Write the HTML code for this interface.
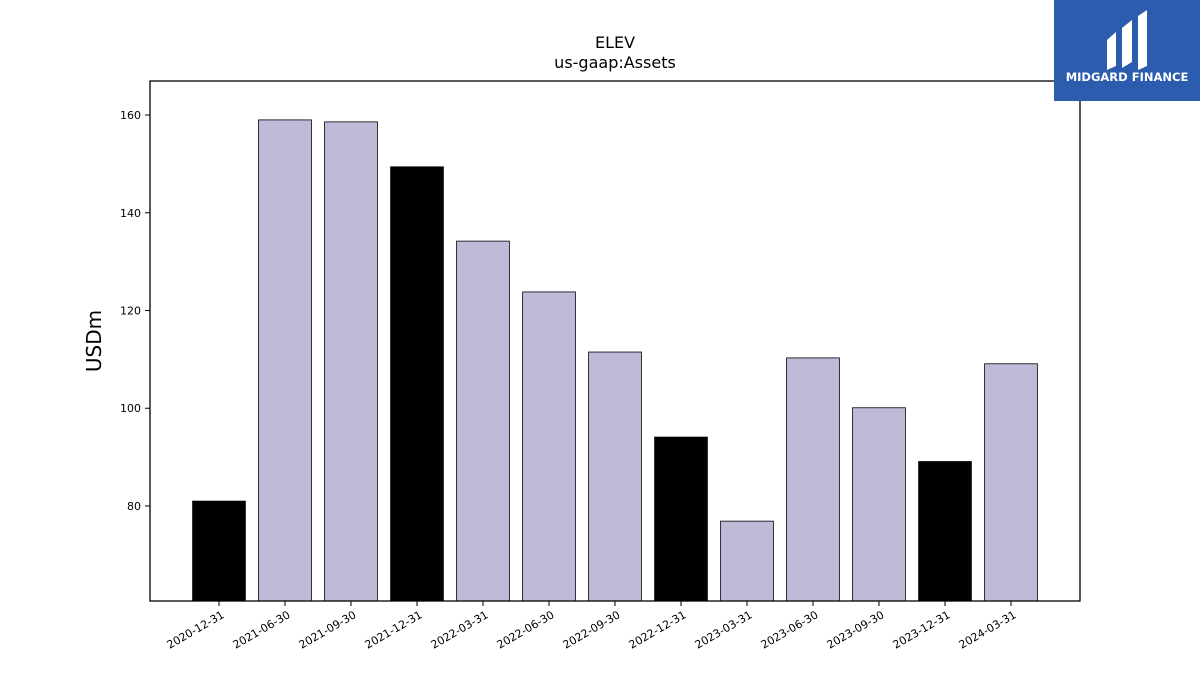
<!DOCTYPE html>
<html><head><meta charset="utf-8"><style>
body{margin:0;background:#fff;font-family:"DejaVu Sans","Liberation Sans",sans-serif;}
svg text{font-family:"DejaVu Sans","Liberation Sans",sans-serif;}
</style></head><body>
<svg id="chart" width="1200" height="675" xmlns="http://www.w3.org/2000/svg">
<rect width="1200" height="675" fill="#fff"/>
<text x="615" y="48" font-size="16" text-anchor="middle">ELEV</text>
<text x="615" y="68" font-size="16" text-anchor="middle">us-gaap:Assets</text>
<text transform="translate(101,341) rotate(-90)" font-size="20" text-anchor="middle">USDm</text>
<g id="bars"></g>
<g id="xticks"></g>
<g id="yticks"></g>
<rect x="150" y="81" width="930" height="520" fill="none" stroke="#000" stroke-width="1.3"/>
<g>
<rect x="1054" y="0" width="146" height="101" fill="#2b5cad"/>
<path d="M1107 40 L1116 32 L1116 66 L1107 70 Z M1122 28 L1132 20 L1132 62 L1122 68 Z M1138 16 L1147 10 L1147 66 L1138 70 Z" fill="#fff"/>
<text x="1127" y="81" font-size="11.5" font-weight="bold" fill="#fff" text-anchor="middle">MIDGARD FINANCE</text>
</g>
</svg>
<script>
const categories=["2020-12-31","2021-06-30","2021-09-30","2021-12-31","2022-03-31","2022-06-30","2022-09-30","2022-12-31","2023-03-31","2023-06-30","2023-09-30","2023-12-31","2024-03-31"];
const values=[81.0,159.0,158.6,149.4,134.2,123.8,111.5,94.1,76.9,110.3,100.1,89.1,109.1];
const annual=[true,false,false,true,false,false,false,true,false,false,false,true,false];
const yTicks=[80,100,120,140,160];
const yMin=60.56,yMax=166.96;
const pL=150,pR=1080,pT=81,pB=601;
const ns="http://www.w3.org/2000/svg";
const step=66;
function xS(i){return 219+i*step;}
function yS(v){return pB-(v-yMin)/(yMax-yMin)*(pB-pT);}
const bars=document.getElementById('bars'),xt=document.getElementById('xticks'),yt=document.getElementById('yticks');
categories.forEach((c,i)=>{
 const r=document.createElementNS(ns,'rect');
 
 
 const w=step*0.8,y=yS(values[i]);
 r.setAttribute('x',xS(i)-w/2);r.setAttribute('y',y);r.setAttribute('width',w);r.setAttribute('height',pB-y);
 r.setAttribute('fill',annual[i]?'#000':'#bebbd9');r.setAttribute('stroke','#000');r.setAttribute('stroke-width','0.8');
 bars.appendChild(r);
 const l=document.createElementNS(ns,'line');
 
 
 l.setAttribute('x1',xS(i));l.setAttribute('x2',xS(i));l.setAttribute('y1',pB);l.setAttribute('y2',pB+5);l.setAttribute('stroke','#000');
 xt.appendChild(l);
 const t=document.createElementNS(ns,'text');
 
 
 t.setAttribute('font-size','11');t.setAttribute('text-anchor','end');
 t.setAttribute('transform',`translate(${xS(i)+6},${pB+16}) rotate(-30)`);
 t.textContent=c;xt.appendChild(t);
});
yTicks.forEach(v=>{
 const y=yS(v);
 const l=document.createElementNS(ns,'line');
 
 
 l.setAttribute('x1',pL-5);l.setAttribute('x2',pL);l.setAttribute('y1',y);l.setAttribute('y2',y);l.setAttribute('stroke','#000');
 yt.appendChild(l);
 const t=document.createElementNS(ns,'text');
 
 
 t.setAttribute('font-size','11');t.setAttribute('text-anchor','end');
 t.setAttribute('x',pL-9);t.setAttribute('y',y+4);t.textContent=v;yt.appendChild(t);
});
</script>
</body></html>
